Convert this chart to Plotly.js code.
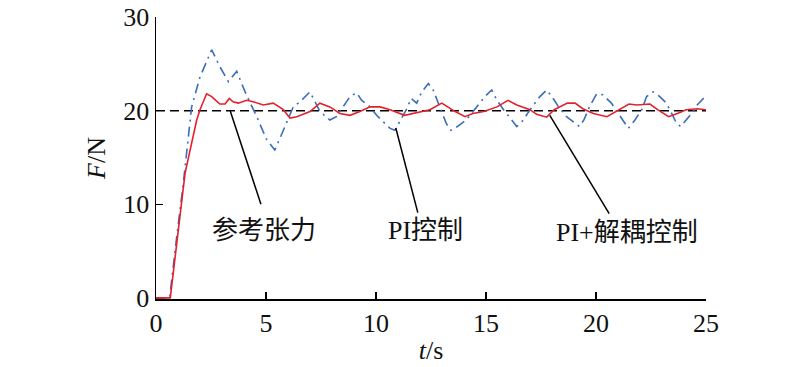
<!DOCTYPE html>
<html>
<head>
<meta charset="utf-8">
<script src="https://cdn.plot.ly/plotly-3.0.1.min.js"></script>
<style>html,body{margin:0;padding:0;background:#fff;}#chart{width:800px;height:367px;}</style>
</head>
<body>
<div id="chart"></div>
<script>
// Reference tension
var tRef = [0, 25];
var FRef = [20, 20];

// PI control (blue dash-dot)
var tPI = [0, 0.62, 0.94, 1.24, 1.62, 2.0, 2.53, 2.9, 3.29, 3.67, 4.05, 4.58, 5.03, 5.4, 5.79, 6.24, 6.55, 6.85, 7.0, 7.23, 7.45, 7.9, 8.2, 8.5, 8.82, 9.12, 9.35, 9.73, 10.03, 10.33, 10.64, 10.86, 11.1, 11.4, 11.6, 11.85, 12.08, 12.38, 12.6, 12.95, 13.2, 13.4, 13.7, 14.1, 14.6, 14.95, 15.26, 15.5, 15.8, 16.1, 16.4, 16.7, 17.0, 17.45, 17.76, 18.0, 18.3, 18.66, 19.05, 19.25, 19.45, 19.7, 20.03, 20.3, 20.7, 21.0, 21.24, 21.47, 21.77, 22.08, 22.3, 22.6, 22.9, 23.2, 23.44, 23.67, 23.85, 24.1, 24.35, 24.6, 24.88, 25.0];
var FPI = [0, 0, 6.5, 12.2, 20.4, 23.6, 26.5, 24.7, 23.1, 24.2, 22.0, 19.35, 16.9, 15.8, 17.9, 20.4, 20.95, 21.7, 22.0, 20.95, 19.9, 19.0, 19.35, 20.4, 21.5, 21.9, 21.1, 20.4, 19.5, 18.8, 18.1, 17.9, 19.0, 20.2, 21.3, 20.8, 22.0, 22.9, 22.2, 20.1, 18.6, 17.9, 18.3, 19.0, 20.4, 21.5, 22.2, 21.1, 20.1, 19.2, 18.3, 19.0, 20.1, 21.5, 22.2, 21.5, 20.4, 19.35, 18.6, 18.3, 19.0, 20.4, 21.8, 21.7, 20.8, 19.7, 18.8, 18.1, 19.0, 20.1, 21.5, 22.0, 21.5, 20.8, 19.7, 18.6, 18.3, 19.0, 19.7, 20.6, 21.3, 21.4];

// PI + decoupling control (red solid)
var tDec = [0, 0.65, 1.32, 1.85, 2.0, 2.3, 2.53, 2.9, 3.14, 3.33, 3.5, 3.74, 4.12, 4.42, 4.88, 5.33, 5.79, 6.09, 6.4, 6.55, 7.0, 7.45, 7.9, 8.36, 8.82, 9.27, 9.73, 10.18, 10.64, 11.3, 11.85, 12.45, 12.99, 13.6, 14.05, 14.4, 14.9, 15.5, 16.0, 16.4, 17.0, 17.3, 17.76, 18.1, 18.7, 19.05, 19.4, 19.88, 20.5, 20.9, 21.5, 21.85, 22.45, 22.8, 23.3, 23.7, 24.1, 24.6, 25.0];
var FDec = [0, 0, 13.3, 19.0, 20.1, 21.8, 21.5, 20.7, 20.7, 21.3, 20.95, 20.8, 21.1, 20.95, 20.6, 20.8, 20.1, 19.2, 19.35, 19.5, 19.9, 20.8, 20.4, 19.7, 19.5, 19.9, 20.4, 20.4, 20.1, 19.5, 19.8, 20.1, 20.8, 19.9, 19.35, 19.7, 19.9, 20.4, 21.1, 20.6, 20.1, 19.6, 19.3, 20.1, 20.8, 20.8, 20.2, 19.7, 19.35, 19.9, 20.7, 20.6, 20.7, 20.1, 19.35, 19.7, 20.1, 20.2, 20.1];

// Labels
var labelText = ['参考张力', 'PI控制', 'PI+解耦控制'];
var labelX = [4.9, 12.25, 21.4];
var labelY = [7.15, 7.15, 7.0];
// leader lines: start (on curve) -> end (near label)
var leadX0 = [3.36, 10.9, 17.9];
var leadY0 = [20.06, 18.14, 19.5];
var leadX1 = [4.77, 11.9, 20.6];
var leadY1 = [10.0, 9.1, 9.0];

var xTicks = [0, 5, 10, 15, 20, 25];
var yTicks = [0, 10, 20, 30];

var serif = 'Liberation Serif, Times New Roman, Noto Sans CJK SC, serif';

var traces = [
  {x: tRef, y: FRef, mode: 'lines', line: {color: '#000', width: 1.5, dash: '9px,5px'}, hoverinfo: 'skip'},
  {x: tPI, y: FPI, mode: 'lines', line: {color: '#3b6db8', width: 1.6, dash: '10px,5px,2px,5px'}},
  {x: tDec, y: FDec, mode: 'lines', line: {color: '#e3202b', width: 1.6}}
];

var shapes = [];
var annotations = [];
for (var i = 0; i < labelText.length; i++) {
  shapes.push({type: 'line', xref: 'x', yref: 'y', x0: leadX0[i], y0: leadY0[i], x1: leadX1[i], y1: leadY1[i], line: {color: '#000', width: 1.5}});
  annotations.push({x: labelX[i], y: labelY[i], xref: 'x', yref: 'y', text: labelText[i], showarrow: false,
    font: {family: serif, size: 26, color: '#111'}, xanchor: 'center', yanchor: 'middle'});
}

var layout = {
  width: 800, height: 367,
  margin: {l: 156, r: 94, t: 17, b: 68, pad: 0},
  paper_bgcolor: '#fff', plot_bgcolor: '#fff',
  showlegend: false,
  font: {family: serif, size: 26, color: '#111'},
  xaxis: {
    range: [0, 25], tickvals: xTicks, ticktext: xTicks.map(String),
    ticks: 'inside', ticklen: 7, tickwidth: 1.5, tickcolor: '#000', layer: 'below traces',
    showline: true, linecolor: '#000', linewidth: 1.5, showgrid: false, zeroline: false,
    tickfont: {family: serif, size: 26, color: '#111'},
    title: {text: '<i>t</i>/s', font: {family: serif, size: 26, color: '#111'}, standoff: 4}
  },
  yaxis: {
    range: [-0.12, 30], tickvals: yTicks, ticktext: yTicks.map(String),
    ticks: 'inside', ticklen: 7, tickwidth: 1.5, tickcolor: '#000', layer: 'below traces',
    showline: true, linecolor: '#000', linewidth: 1.5, showgrid: false, zeroline: false,
    tickfont: {family: serif, size: 26, color: '#111'},
    title: {text: '<i>F</i>/N', font: {family: serif, size: 26, color: '#111'}, standoff: 10}
  },
  shapes: shapes,
  annotations: annotations
};

Plotly.newPlot('chart', traces, layout, {displayModeBar: false, staticPlot: true});
</script>
</body>
</html>
